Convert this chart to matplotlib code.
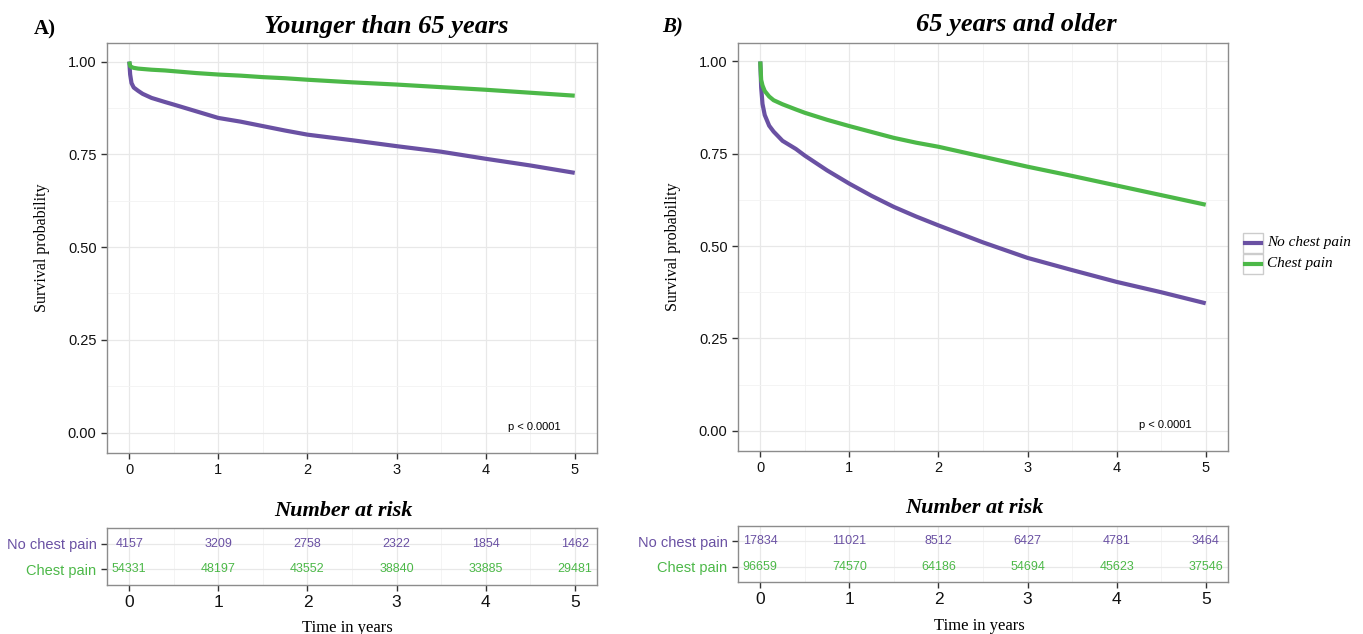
import matplotlib
matplotlib.use("Agg")
import matplotlib.pyplot as plt
from matplotlib.lines import Line2D
from matplotlib.patches import Rectangle

# ── Data ─────────────────────────────────────────────────────────────────────
times = [0, 0.01, 0.025, 0.05, 0.1, 0.15, 0.25, 0.4, 0.5, 0.75, 1, 1.25,
         1.5, 1.75, 2, 2.5, 3, 3.5, 4, 4.5, 5]

young_no_pain = [1.0, 0.965, 0.942, 0.93, 0.921, 0.913, 0.902, 0.891, 0.884,
                 0.866, 0.848, 0.838, 0.826, 0.814, 0.803, 0.788, 0.772,
                 0.757, 0.738, 0.72, 0.70]
young_pain = [1.0, 0.988, 0.985, 0.983, 0.981, 0.98, 0.978, 0.976, 0.974,
              0.969, 0.965, 0.962, 0.958, 0.955, 0.951, 0.944, 0.938,
              0.931, 0.924, 0.916, 0.908]

old_no_pain = [1.0, 0.93, 0.885, 0.855, 0.826, 0.81, 0.785, 0.763, 0.745,
               0.705, 0.669, 0.636, 0.606, 0.58, 0.556, 0.51, 0.468,
               0.435, 0.403, 0.375, 0.345]
old_pain = [1.0, 0.95, 0.935, 0.92, 0.905, 0.895, 0.884, 0.87, 0.861,
            0.842, 0.825, 0.809, 0.793, 0.78, 0.769, 0.742, 0.715,
            0.69, 0.664, 0.638, 0.612]

risk_times = [0, 1, 2, 3, 4, 5]
young_risk_no_pain = [4157, 3209, 2758, 2322, 1854, 1462]
young_risk_pain = [54331, 48197, 43552, 38840, 33885, 29481]
old_risk_no_pain = [17834, 11021, 8512, 6427, 4781, 3464]
old_risk_pain = [96659, 74570, 64186, 54694, 45623, 37546]

groups = ["No chest pain", "Chest pain"]
y_ticks = [0, 0.25, 0.5, 0.75, 1.0]
y_ticklabels = ["0.00", "0.25", "0.50", "0.75", "1.00"]

PURPLE = "#6a51a3"
GREEN = "#4cb848"
SANS = "Liberation Sans"
SERIF = "Liberation Serif"
W, H = 1363, 634


def frac(x0, y0, x1, y1):
    """Pixel box -> figure fraction [left, bottom, width, height]."""
    return [x0 / W, 1 - y1 / H, (x1 - x0) / W, (y1 - y0) / H]


def _style(ax):
    for sp in ax.spines.values():
        sp.set_color("#8c8c8c")
        sp.set_linewidth(1.0)
    ax.set_facecolor("white")
    ax.grid(which="major", color="#e8e8e8", linewidth=0.9)
    ax.grid(which="minor", color="#f3f3f3", linewidth=0.6)
    ax.set_axisbelow(True)
    ax.tick_params(which="major", length=4, width=1, color="#333333")
    ax.tick_params(which="minor", length=0)


# ── Survival curves ──────────────────────────────────────────────────────────

def survival_panel(fig, box, no_pain, pain):
    ax = fig.add_axes(frac(*box))
    _style(ax)
    ax.plot(times, no_pain, color=PURPLE, linewidth=3, solid_capstyle="butt")
    ax.plot(times, pain, color=GREEN, linewidth=3, solid_capstyle="butt")
    ax.set_xlim(-0.25, 5.25)
    ax.set_ylim(-0.055, 1.05)
    ax.set_xticks(risk_times)
    ax.set_xticks([0.5, 1.5, 2.5, 3.5, 4.5], minor=True)
    ax.set_yticks(y_ticks)
    ax.set_yticklabels(y_ticklabels)
    ax.set_yticks([0.125, 0.375, 0.625, 0.875], minor=True)
    for lbl in ax.get_xticklabels() + ax.get_yticklabels():
        lbl.set_fontfamily(SANS)
        lbl.set_fontsize(10.5)
        lbl.set_color("#111111")
    ax.set_ylabel("Survival probability", family=SERIF, fontsize=11.5,
                  labelpad=13)
    ax.text(4.55, 0.015, "p < 0.0001", family=SANS, fontsize=8,
            ha="center", va="center")
    return ax


# ── Number at risk table ─────────────────────────────────────────────────────

def risk_panel(fig, box, no_pain, pain):
    ax = fig.add_axes(frac(*box))
    _style(ax)
    for t, v in zip(risk_times, no_pain):
        ax.text(t, 2, str(v), color=PURPLE, family=SANS, fontsize=9,
                ha="center", va="center")
    for t, v in zip(risk_times, pain):
        ax.text(t, 1, str(v), color=GREEN, family=SANS, fontsize=9,
                ha="center", va="center")
    ax.set_xlim(-0.25, 5.25)
    ax.set_ylim(0.4, 2.6)
    ax.set_xticks(risk_times)
    ax.set_xticks([0.5, 1.5, 2.5, 3.5, 4.5], minor=True)
    ax.set_yticks([2, 1])
    ax.set_yticklabels(groups)
    for lbl, c in zip(ax.get_yticklabels(), [PURPLE, GREEN]):
        lbl.set_color(c)
        lbl.set_fontfamily(SANS)
        lbl.set_fontsize(10.5)
    for lbl in ax.get_xticklabels():
        lbl.set_fontfamily(SANS)
        lbl.set_fontsize(12.5)
        lbl.set_color("#111111")
    return ax


fig = plt.figure(figsize=(W / 100, H / 100), dpi=100)

survival_panel(fig, (107, 43, 597, 453), young_no_pain, young_pain)
survival_panel(fig, (738, 43, 1228, 451), old_no_pain, old_pain)
risk_panel(fig, (107, 528, 597, 585), young_risk_no_pain, young_risk_pain)
risk_panel(fig, (738, 526, 1228, 582), old_risk_no_pain, old_risk_pain)

title_kw = dict(family=SERIF, weight="bold", style="italic",
                ha="center", va="center")
fig.text(386 / W, 1 - 27 / H, "Younger than 65 years", fontsize=19, **title_kw)
fig.text(1016 / W, 1 - 25 / H, "65 years and older", fontsize=19, **title_kw)
fig.text(343 / W, 1 - 511 / H, "Number at risk", fontsize=16, **title_kw)
fig.text(974 / W, 1 - 508 / H, "Number at risk", fontsize=16, **title_kw)

fig.text(45 / W, 1 - 29 / H, "A)", family=SERIF, weight="bold", fontsize=15,
         ha="center", va="center")
fig.text(673 / W, 1 - 27 / H, "B)", family=SERIF, weight="bold",
         style="italic", fontsize=15, ha="center", va="center")

fig.text(347 / W, 1 - 628 / H, "Time in years", family=SERIF, fontsize=12,
         ha="center", va="center")
fig.text(979 / W, 1 - 626 / H, "Time in years", family=SERIF, fontsize=12,
         ha="center", va="center")

# Legend drawn by hand, ggplot style keys
leg = fig.add_axes(frac(1241, 232, 1363, 276))
leg.set_xlim(0, 122)
leg.set_ylim(44, 0)
leg.axis("off")
for i, (name, col) in enumerate(zip(groups, [PURPLE, GREEN])):
    y0 = 1 + i * 21
    leg.add_patch(Rectangle((2, y0), 20, 20, facecolor="white",
                            edgecolor="#cccccc", linewidth=1))
    leg.add_line(Line2D([4, 20], [y0 + 10, y0 + 10], color=col, linewidth=3))
    leg.text(26, y0 + 10, name, family=SERIF, style="italic", fontsize=11,
             ha="left", va="center")

fig.savefig("out.png", dpi=100)
